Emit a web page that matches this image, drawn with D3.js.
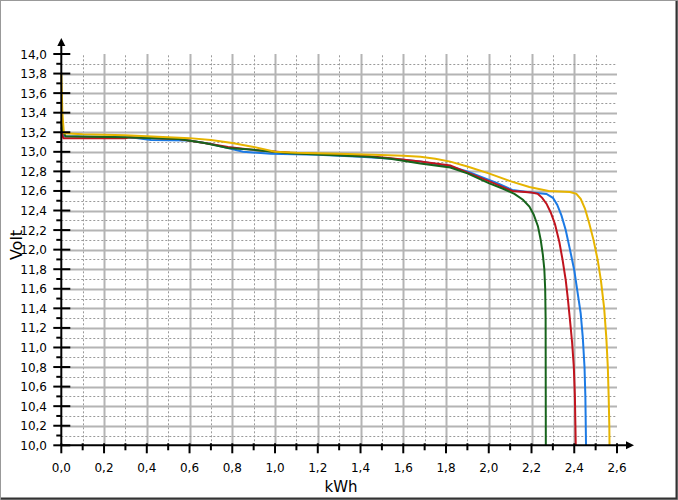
<!DOCTYPE html>
<html lang="en">
	<head>
		<meta charset="utf-8">
		<title>D3: Battery discharge curves</title>
		<script type="text/javascript" src="https://cdn.jsdelivr.net/npm/d3@7"></script>
		<style>
			body { margin: 0; background: #fff; }
			text { font-family: "DejaVu Sans", Verdana, sans-serif; fill: #000; }
		</style>
	</head>
	<body>
		<script type="text/javascript">
			//Width and height
			var w = 678;
			var h = 500;

			//Tick values
			var xTicks = d3.range(0, 27).map(function(i) { return i / 10; });
			var yTicks = d3.range(100, 141).map(function(i) { return i / 10; });

			//Series data: [kWh, Volt]
			var blueData = [[0, 13.25], [0.01, 13.16], [0.2, 13.155], [0.3, 13.15], [0.35, 13.14], [0.42, 13.12], [0.6, 13.115], [0.7, 13.08], [0.78, 13.04], [0.85, 13.0], [0.98, 12.98], [1.2, 12.97], [1.4, 12.95], [1.55, 12.93], [1.68, 12.9], [1.82, 12.85], [1.9, 12.8], [1.98, 12.73], [2.04, 12.68], [2.11, 12.61], [2.18, 12.59], [2.27, 12.57], [2.3, 12.53], [2.32, 12.46], [2.34, 12.35], [2.36, 12.2], [2.38, 12.0], [2.4, 11.79], [2.415, 11.57], [2.43, 11.35], [2.44, 11.1], [2.448, 10.8], [2.452, 10.5], [2.455, 10.0]];
			var redData = [[0, 13.2], [0.01, 13.14], [0.3, 13.14], [0.32, 13.15], [0.45, 13.14], [0.55, 13.13], [0.67, 13.09], [0.78, 13.05], [0.9, 13.02], [1.07, 12.99], [1.44, 12.955], [1.54, 12.935], [1.68, 12.9], [1.82, 12.86], [1.91, 12.78], [2.0, 12.7], [2.11, 12.6], [2.2, 12.585], [2.23, 12.57], [2.25, 12.53], [2.27, 12.47], [2.29, 12.38], [2.31, 12.26], [2.33, 12.08], [2.345, 11.9], [2.36, 11.69], [2.37, 11.5], [2.38, 11.28], [2.39, 11.05], [2.398, 10.8], [2.403, 10.5], [2.407, 10.0]];
			var greenData = [[0, 13.32], [0.005, 13.22], [0.02, 13.16], [0.125, 13.155], [0.3, 13.15], [0.55, 13.13], [0.67, 13.09], [0.78, 13.04], [0.9, 13.02], [1.07, 12.985], [1.44, 12.95], [1.54, 12.93], [1.68, 12.88], [1.82, 12.84], [1.9, 12.78], [2.0, 12.68], [2.07, 12.62], [2.12, 12.57], [2.16, 12.51], [2.19, 12.44], [2.21, 12.36], [2.23, 12.24], [2.243, 12.1], [2.253, 11.95], [2.26, 11.8], [2.264, 11.6], [2.266, 11.3], [2.267, 10.0]];
			var yellowData = [[0, 13.8], [0.005, 13.4], [0.012, 13.19], [0.1, 13.18], [0.3, 13.17], [0.4, 13.16], [0.5, 13.15], [0.6, 13.14], [0.7, 13.12], [0.8, 13.09], [0.9, 13.05], [1.0, 13.0], [1.1, 12.99], [1.3, 12.98], [1.46, 12.97], [1.6, 12.96], [1.68, 12.95], [1.75, 12.93], [1.82, 12.9], [1.9, 12.85], [2.0, 12.78], [2.1, 12.7], [2.19, 12.64], [2.28, 12.6], [2.38, 12.59], [2.41, 12.57], [2.43, 12.52], [2.45, 12.42], [2.47, 12.27], [2.49, 12.1], [2.51, 11.89], [2.525, 11.68], [2.54, 11.4], [2.55, 11.1], [2.557, 10.8], [2.561, 10.5], [2.564, 10.2], [2.565, 10.0]];

			var series = [
				{ data: blueData, color: "#1c7ae4" },
				{ data: redData, color: "#c0141e" },
				{ data: greenData, color: "#17641c" },
				{ data: yellowData, color: "#e6b400" }
			];

			var xScale = d3.scaleLinear()
				.domain([0, 2.6])
				.range([61.3, 617]);

			var yScale = d3.scaleLinear()
				.domain([10, 14])
				.range([445.3, 54]);

			var fmt = function(d) { return d3.format(".1f")(d).replace(".", ","); };
			var isMajor = function(d) { return Math.round(d * 10) % 2 === 0; };

			var svg = d3.select("body")
				.append("svg")
				.attr("width", w)
				.attr("height", h);

			//Frame
			svg.append("rect")
				.attr("x", 0.5).attr("y", 0.5)
				.attr("width", w - 1).attr("height", h - 1)
				.attr("fill", "none")
				.attr("stroke", "#999");
			svg.append("path")
				.attr("d", "M1," + (h - 1.5) + "H" + (w - 1.5) + "V1")
				.attr("fill", "none")
				.attr("stroke", "#333")
				.attr("stroke-width", 2);

			//Grid
			var grid = svg.append("g");
			grid.selectAll("line.gx")
				.data(xTicks.filter(function(d) { return d > 0 && d < 2.55; }))
				.enter()
				.append("line")
				.attr("x1", function(d) { return Math.round(xScale(d)) + 0.5; })
				.attr("x2", function(d) { return Math.round(xScale(d)) + 0.5; })
				.attr("y1", yScale(10))
				.attr("y2", yScale(14))
				.attr("stroke", function(d) { return isMajor(d) ? "#b4b4b4" : "#9a9a9a"; })
				.attr("stroke-width", function(d) { return isMajor(d) ? 2 : 1; })
				.attr("stroke-dasharray", function(d) { return isMajor(d) ? null : "2,2"; });

			grid.selectAll("line.gy")
				.data(yTicks.filter(function(d) { return d > 10 && d < 13.95; }))
				.enter()
				.append("line")
				.attr("x1", xScale(0))
				.attr("x2", xScale(2.6))
				.attr("y1", function(d) { return Math.round(yScale(d)) + 0.5; })
				.attr("y2", function(d) { return Math.round(yScale(d)) + 0.5; })
				.attr("stroke", function(d) { return isMajor(d) ? "#b4b4b4" : "#9a9a9a"; })
				.attr("stroke-width", function(d) { return isMajor(d) ? 2 : 1; })
				.attr("stroke-dasharray", function(d) { return isMajor(d) ? null : "2,2"; });

			//Lines
			var line = d3.line()
				.x(function(d) { return xScale(d[0]); })
				.y(function(d) { return yScale(d[1]); });

			svg.selectAll("path.series")
				.data(series)
				.enter()
				.append("path")
				.attr("class", "series")
				.attr("d", function(d) { return line(d.data); })
				.attr("fill", "none")
				.attr("stroke", function(d) { return d.color; })
				.attr("stroke-width", 2);

			//Axes
			var axes = svg.append("g");
			var x0 = xScale(0), y0 = yScale(10);

			axes.append("line")
				.attr("x1", x0).attr("x2", 628)
				.attr("y1", y0).attr("y2", y0)
				.attr("stroke", "#000").attr("stroke-width", 2);
			axes.append("path")
				.attr("d", "M634," + y0 + "L626," + (y0 - 4) + "L626," + (y0 + 4) + "Z")
				.attr("fill", "#000");

			axes.append("line")
				.attr("x1", x0).attr("x2", x0)
				.attr("y1", y0).attr("y2", 44)
				.attr("stroke", "#000").attr("stroke-width", 2);
			axes.append("path")
				.attr("d", "M" + x0 + ",38L" + (x0 - 4) + ",46L" + (x0 + 4) + ",46Z")
				.attr("fill", "#000");

			//X ticks
			axes.selectAll("line.xt")
				.data(xTicks)
				.enter()
				.append("line")
				.attr("x1", function(d) { return xScale(d); })
				.attr("x2", function(d) { return xScale(d); })
				.attr("y1", y0 - 2)
				.attr("y2", function(d) { return isMajor(d) ? y0 + 8 : y0 + 5; })
				.attr("stroke", "#000").attr("stroke-width", 2);

			axes.selectAll("text.xl")
				.data(xTicks.filter(isMajor))
				.enter()
				.append("text")
				.attr("x", function(d) { return xScale(d); })
				.attr("y", 472)
				.attr("text-anchor", "middle")
				.style("font-size", "12px")
				.text(fmt);

			//Y ticks
			axes.selectAll("line.yt")
				.data(yTicks)
				.enter()
				.append("line")
				.attr("x1", function(d) { return isMajor(d) ? x0 - 8 : x0 - 5; })
				.attr("x2", function(d) { return isMajor(d) ? x0 + 9 : x0; })
				.attr("y1", function(d) { return yScale(d); })
				.attr("y2", function(d) { return yScale(d); })
				.attr("stroke", "#000").attr("stroke-width", 2);

			axes.selectAll("text.yl")
				.data(yTicks.filter(isMajor))
				.enter()
				.append("text")
				.attr("x", 47)
				.attr("y", function(d) { return yScale(d) + 4.5; })
				.attr("text-anchor", "end")
				.style("font-size", "12px")
				.text(fmt);

			//Axis titles
			svg.append("text")
				.attr("x", 341)
				.attr("y", 492)
				.attr("text-anchor", "middle")
				.style("font-size", "15px")
				.text("kWh");

			svg.append("text")
				.attr("transform", "translate(22,245) rotate(-90)")
				.attr("text-anchor", "middle")
				.style("font-size", "16px")
				.text("Volt");
		</script>
	</body>
</html>
